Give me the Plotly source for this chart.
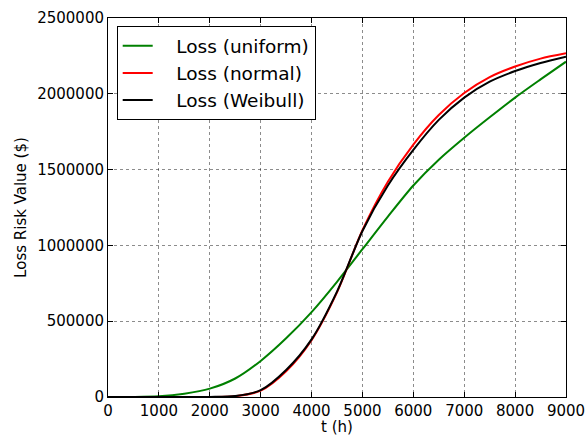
import plotly.graph_objects as go

# Operating time (hours)
t_hours = [0, 500, 1000, 1500, 2000, 2500, 3000, 3500, 4000, 4500,
           5000, 5500, 6000, 6500, 7000, 7500, 8000, 8500, 9000]

# Loss risk value ($) under each lifetime distribution
loss_uniform = [0, 500, 5000, 22000, 55000, 122000, 238000, 387000, 560000, 760000,
                975000, 1190000, 1395000, 1565000, 1710000, 1845000, 1975000, 2095000, 2212000]
loss_normal = [0, 0, 0, 0, 500, 5000, 42000, 170000, 375000, 690000,
               1100000, 1420000, 1665000, 1860000, 2005000, 2110000, 2180000, 2232000, 2267000]
loss_weibull = [0, 0, 0, 0, 500, 6000, 45000, 178000, 380000, 695000,
                1095000, 1395000, 1630000, 1828000, 1975000, 2080000, 2150000, 2203000, 2245000]

x_ticks = [0, 1000, 2000, 3000, 4000, 5000, 6000, 7000, 8000, 9000]
y_ticks = [0, 500000, 1000000, 1500000, 2000000, 2500000]

FONT = "DejaVu Sans"
PAD = "\u2002\u2002"  # gap between legend sample line and label

fig = go.Figure()
series = [
    ("Loss (uniform)", loss_uniform, "#008000"),
    ("Loss (normal)", loss_normal, "#ff0000"),
    ("Loss (Weibull)", loss_weibull, "#000000"),
]
for name, values, color in series:
    fig.add_trace(go.Scatter(
        x=t_hours, y=values, name=PAD + name, mode="lines",
        line=dict(color=color, width=2, shape="spline", smoothing=0.8),
    ))

axis_common = dict(
    showline=True, linecolor="black", linewidth=1, mirror="ticks",
    ticks="inside", ticklen=5, tickcolor="black",
    showgrid=True, gridcolor="rgba(0,0,0,0.45)", griddash="dot", gridwidth=1,
    zeroline=False, automargin=False,
    tickfont=dict(family=FONT, size=15, color="black"),
)

fig.update_xaxes(
    range=[0, 9000], tickvals=x_ticks, ticktext=[str(v) for v in x_ticks],
    title=dict(text="t (h)", font=dict(family=FONT, size=15, color="black"), standoff=4),
    **axis_common,
)
fig.update_yaxes(
    range=[0, 2500000], tickvals=y_ticks, ticktext=[str(v) for v in y_ticks],
    title=dict(text="Loss Risk Value ($)", font=dict(family=FONT, size=15, color="black"), standoff=6),
    **axis_common,
)

fig.update_layout(
    width=588, height=436,
    margin=dict(l=108, r=22, t=18, b=39),
    paper_bgcolor="white", plot_bgcolor="white",
    font=dict(family=FONT, color="black"),
    legend=dict(
        x=0.019, y=0.978, xanchor="left", yanchor="top",
        bgcolor="white", bordercolor="black", borderwidth=1,
        font=dict(family=FONT, size=18.5, color="black"),
    ),
)

fig.write_html("out.html")
